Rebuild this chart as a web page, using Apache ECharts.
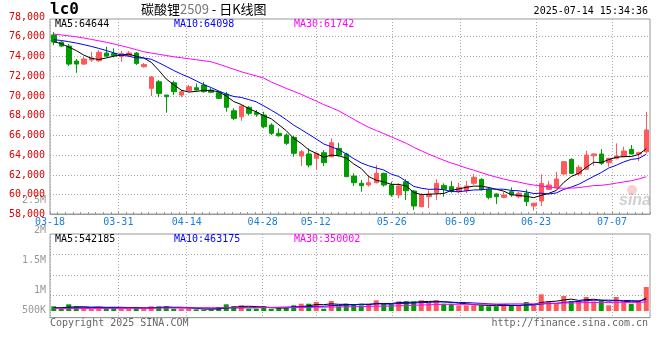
<!DOCTYPE html>
<html>
<head>
<meta charset="utf-8">
<script src="https://cdn.jsdelivr.net/npm/echarts@6/dist/echarts.min.js"></script>
<style>html,body{margin:0;padding:0;background:#fff}#c{width:660px;height:360px}</style>
</head>
<body>
<div id="c"></div>
<script>
// ---------- data ----------
const dates = ['03-18','03-19','03-20','03-21','03-24','03-25','03-26','03-27','03-28','03-31',
  '04-01','04-02','04-03','04-07','04-08','04-09','04-10','04-11','04-14','04-15',
  '04-16','04-17','04-18','04-21','04-22','04-23','04-24','04-25','04-28','04-29',
  '04-30','05-06','05-07','05-08','05-09','05-12','05-13','05-14','05-15','05-16',
  '05-19','05-20','05-21','05-22','05-23','05-26','05-27','05-28','05-29','05-30',
  '06-03','06-04','06-05','06-06','06-09','06-10','06-11','06-12','06-13','06-16',
  '06-17','06-18','06-19','06-20','06-23','06-24','06-25','06-26','06-27','06-30',
  '07-01','07-02','07-03','07-04','07-07','07-08','07-09','07-10','07-11','07-14'];
const tickDates = ['03-18','03-31','04-14','04-28','05-12','05-26','06-09','06-23','07-07'];

const opens = [76170,75450,75050,73540,73230,73640,73570,74350,74300,73990,
  74090,74350,72960,70770,71440,70090,71340,70090,70530,70830,
  71100,70600,70330,70190,68500,67890,68850,68340,68070,67050,
  66210,66040,65810,63910,64120,63680,64250,63840,64690,64120,
  61890,61150,60980,61210,62160,60980,59970,61310,60370,58780,
  59790,60200,60940,60810,60300,60400,61150,61550,60540,60070,
  59730,60300,59790,60140,58850,59350,60540,60700,62090,63580,
  62090,62570,63940,64120,63240,63680,63840,64590,64120,64350];
const closes = [75460,75050,73230,73230,73740,73840,74420,74040,74090,74300,
  74350,73300,73180,71910,70260,69920,70430,70430,70930,70600,
  70430,70370,69760,68850,67730,68980,68240,68140,66880,66210,
  65970,65200,64190,64350,63000,64190,63240,65260,64020,61820,
  61210,60910,61210,62160,60980,59970,60880,60400,58850,59970,
  60070,61150,60540,60400,60740,60880,61760,60540,59730,59790,
  59970,59970,60140,59290,59120,61140,60980,61590,63340,62160,
  62770,64020,64120,63180,63680,63910,64420,64120,64250,66550];
const lows = [75150,74950,73030,72350,73130,73460,73430,73940,73910,73460,
  73940,73130,72880,69990,69860,68300,70090,69860,70430,70550,
  70330,70290,69690,68400,67560,67490,68070,67890,66720,66040,
  65870,65030,63840,62900,62770,62500,62900,63780,63840,61790,
  60880,60300,60810,61150,60810,59790,59630,59460,58450,58720,
  58620,59460,59790,60200,60140,60140,60980,60400,59530,59050,
  59630,59790,59630,58850,58380,58850,60470,60640,62020,62090,
  61890,62500,62930,63000,62830,63580,63780,64090,63410,64190];
const highs = [76470,75550,75260,73740,73940,74480,74650,74980,74820,74580,
  74550,74450,73330,72020,71610,70090,71540,70600,71100,71270,
  71440,70800,70500,70400,68750,69080,68980,68570,68400,67230,
  66720,66210,65940,64520,64690,64250,64520,65710,65260,64250,
  62160,61480,61990,63000,62220,61310,61150,61550,60470,60140,
  60470,61550,61140,61380,61210,61380,62090,61660,60740,60140,
  60300,60740,60300,60540,59190,62060,61410,62320,63410,63680,
  63000,64450,64190,64620,63710,65200,64860,65030,64350,68400];
const volumes = [183000,90000,261000,183000,117000,90000,144000,144000,144000,90000,
  90000,144000,90000,183000,183000,183000,90000,90000,90000,66000,
  51000,51000,156000,261000,195000,222000,90000,90000,183000,90000,
  117000,117000,222000,285000,285000,351000,90000,390000,183000,285000,
  261000,222000,285000,417000,285000,261000,378000,378000,378000,417000,
  312000,417000,285000,285000,222000,222000,222000,222000,183000,183000,
  261000,222000,222000,351000,222000,651000,378000,312000,585000,390000,
  390000,546000,378000,390000,222000,546000,351000,285000,417000,936000];

// moving-average values before the window is full (they depend on earlier sessions)
const priceMa5Lead = [75500,75300,74950,74600];
const priceMa10Lead = [75700,75620,75500,75360,75200,75020,74820,74600,74370];
const priceMa30Lead = [76270,76180,76090,76000,75870,75730,75590,75440,75270,75090,
  74900,74690,74480,74350,74220,74100,73970,73870,73770,73670,
  73570,73460,73220,72970,72710,72450,72240,72030,71810];
const volMa5Lead = [120000,130000,150000,160000];
const volMa10Lead = [110000,115000,120000,124000,130000,134000,139000,143000,148000];
const volMa30Lead = [96000,97000,99000,98000,100000,101000,102000,104000,103000,105000,
  107000,108000,110000,111000,113000,115000,116000,118000,119000,121000,
  122000,124000,125000,127000,128000,129000,131000,132000,134000];

const priceLegend = ['MA5:64644','MA10:64098','MA30:61742'];
const volLegend = ['MA5:542185','MA10:463175','MA30:350002'];
const volAxisLabels = ['2.5M','2M','1.5M','1M','500K'];

// ---------- build ----------
const UP = '#ff5a5a', DOWN = '#009c00';
const MA_COLORS = ['#000000','#0000ff','#ff00ff'];
const MONO = '"DejaVu Sans Mono", monospace';
const GRID_LINE = {color:'#aaaaaa', width:1, type:[1,2]};

function movingAvg(vals, n, lead) {
  return vals.map((_, i) => {
    if (i < n - 1) return lead[i];
    let s = 0;
    for (let k = i - n + 1; k <= i; k++) s += vals[k];
    return Math.round(s / n);
  });
}
const kline = dates.map((d, i) => [opens[i], closes[i], lows[i], highs[i]]);
const pMa = [movingAvg(closes,5,priceMa5Lead), movingAvg(closes,10,priceMa10Lead), movingAvg(closes,30,priceMa30Lead)];
const vMa = [movingAvg(volumes,5,volMa5Lead), movingAvg(volumes,10,volMa10Lead), movingAvg(volumes,30,volMa30Lead)];
const volData = volumes.map((v, i) => ({value: v, itemStyle: {color: closes[i] >= opens[i] ? UP : DOWN}}));
const isTick = (idx, val) => tickDates.indexOf(val === undefined ? dates[idx] : val) >= 0 || tickDates.indexOf(dates[idx]) >= 0;

const lineSeries = (data, color, xi, yi) => ({
  type:'line', xAxisIndex:xi, yAxisIndex:yi, data:data, symbol:'none', silent:true,
  lineStyle:{color:color, width:1}, itemStyle:{color:color}, z:3
});

const volLabelY = [200.5, 230, 260, 290, 310];
const graphic = [
  {type:'text', x:50, y:10, style:{text:'lc0', font:'bold 16px ' + MONO, fill:'#000', verticalAlign:'middle'}},
  {type:'text', x:141, y:9, style:{text:'{a|碳酸锂}{b|2509}{a| - 日K线图}', verticalAlign:'middle',
    rich:{a:{fontFamily:'"Noto Sans CJK SC"', fontSize:13, fill:'#000', color:'#000'},
          b:{fontFamily:'"Noto Sans CJK SC"', fontSize:13, fill:'#777', color:'#777'}}}},
  {type:'text', x:648, y:11, style:{text:'2025-07-14 15:34:36', align:'right', verticalAlign:'middle', font:'10px ' + MONO, fill:'#000'}},
  {type:'text', x:55, y:24, style:{text:priceLegend[0], verticalAlign:'middle', font:'10px ' + MONO, fill:MA_COLORS[0]}},
  {type:'text', x:174, y:24, style:{text:priceLegend[1], verticalAlign:'middle', font:'10px ' + MONO, fill:MA_COLORS[1]}},
  {type:'text', x:294, y:24, style:{text:priceLegend[2], verticalAlign:'middle', font:'10px ' + MONO, fill:MA_COLORS[2]}},
  {type:'text', x:55, y:239, style:{text:volLegend[0], verticalAlign:'middle', font:'10px ' + MONO, fill:MA_COLORS[0]}},
  {type:'text', x:174, y:239, style:{text:volLegend[1], verticalAlign:'middle', font:'10px ' + MONO, fill:MA_COLORS[1]}},
  {type:'text', x:294, y:239, style:{text:volLegend[2], verticalAlign:'middle', font:'10px ' + MONO, fill:MA_COLORS[2]}},
  {type:'text', x:50, y:323.5, style:{text:'Copyright 2025 SINA.COM', verticalAlign:'middle', font:'10px ' + MONO, fill:'#666'}},
  {type:'text', x:648, y:323.5, style:{text:'http://finance.sina.com.cn', align:'right', verticalAlign:'middle', font:'10px ' + MONO, fill:'#666'}},
  {type:'circle', shape:{cx:632, cy:190, r:5}, style:{fill:'rgba(235,120,120,0.35)'}, z:1},
  {type:'text', x:619, y:201, style:{text:'sina', verticalAlign:'middle', font:'italic bold 16px "Liberation Sans"', fill:'rgba(150,150,150,0.45)'}, z:1}
].concat(volAxisLabels.map((t, i) => ({type:'text', x:46, y:volLabelY[i],
  style:{text:t, align:'right', verticalAlign:'middle', font:'10px ' + MONO, fill:'#999'}})));

const option = {
  animation:false,
  textStyle:{fontFamily:MONO},
  grid:[
    {left:50, right:10, top:17, height:197.4, show:false},
    {left:50, right:10, top:19, height:195, show:true, borderColor:'#999', borderWidth:1, backgroundColor:'transparent'},
    {left:50, right:10, top:234, height:77, show:false},
    {left:50, right:10, top:234, height:83.7, show:true, borderColor:'#999', borderWidth:1, backgroundColor:'transparent'},
    {left:50, right:10, top:234, height:61.4, show:false}
  ],
  xAxis:[
    {gridIndex:0, type:'category', data:dates, boundaryGap:true, show:false},
    {gridIndex:1, type:'category', data:dates, boundaryGap:false,
      axisLine:{show:true, lineStyle:{color:'#999'}},
      axisTick:{show:true, interval:0, inside:true, length:2, lineStyle:{color:'#999'}},
      axisLabel:{interval:isTick, color:'#1a7ed8', fontSize:10, fontFamily:MONO, margin:3},
      splitLine:{show:true, interval:isTick, lineStyle:GRID_LINE}},
    {gridIndex:2, type:'category', data:dates, boundaryGap:true, show:false},
    {gridIndex:3, type:'category', data:dates, boundaryGap:false,
      axisLine:{show:true, lineStyle:{color:'#999'}}, axisTick:{show:false}, axisLabel:{show:false},
      splitLine:{show:true, interval:isTick, lineStyle:GRID_LINE}},
    {gridIndex:4, type:'value', min:0, max:1, show:false}
  ],
  yAxis:[
    {gridIndex:0, type:'value', min:58000, max:78000, interval:2000,
      axisLine:{show:false}, axisTick:{show:false},
      axisLabel:{color:'#e00000', fontSize:10, fontFamily:MONO, margin:5},
      splitLine:{show:true, showMinLine:false, showMaxLine:false, lineStyle:GRID_LINE}},
    {gridIndex:1, type:'value', min:0, max:1, show:false},
    {gridIndex:2, type:'value', min:0, max:3003000, show:false},
    {gridIndex:3, type:'value', min:0, max:1, show:false},
    {gridIndex:4, type:'value', inverse:true, min:0, max:3, interval:1,
      axisLine:{show:false}, axisTick:{show:false}, axisLabel:{show:false},
      splitLine:{show:true, showMinLine:false, lineStyle:GRID_LINE}}
  ],
  series:[
    {type:'candlestick', xAxisIndex:0, yAxisIndex:0, data:kline, barWidth:5, silent:true,
      itemStyle:{color:UP, color0:DOWN, borderColor:UP, borderColor0:DOWN, borderWidth:1}},
    lineSeries(pMa[0], MA_COLORS[0], 0, 0),
    lineSeries(pMa[1], MA_COLORS[1], 0, 0),
    lineSeries(pMa[2], MA_COLORS[2], 0, 0),
    {type:'bar', xAxisIndex:2, yAxisIndex:2, data:volData, barWidth:5, silent:true},
    lineSeries(vMa[0], MA_COLORS[0], 2, 2),
    lineSeries(vMa[1], MA_COLORS[1], 2, 2),
    lineSeries(vMa[2], MA_COLORS[2], 2, 2)
  ],
  graphic:graphic
};
const chart = echarts.init(document.getElementById('c'), null, {renderer:'canvas'});
chart.setOption(option);
</script>
</body>
</html>
